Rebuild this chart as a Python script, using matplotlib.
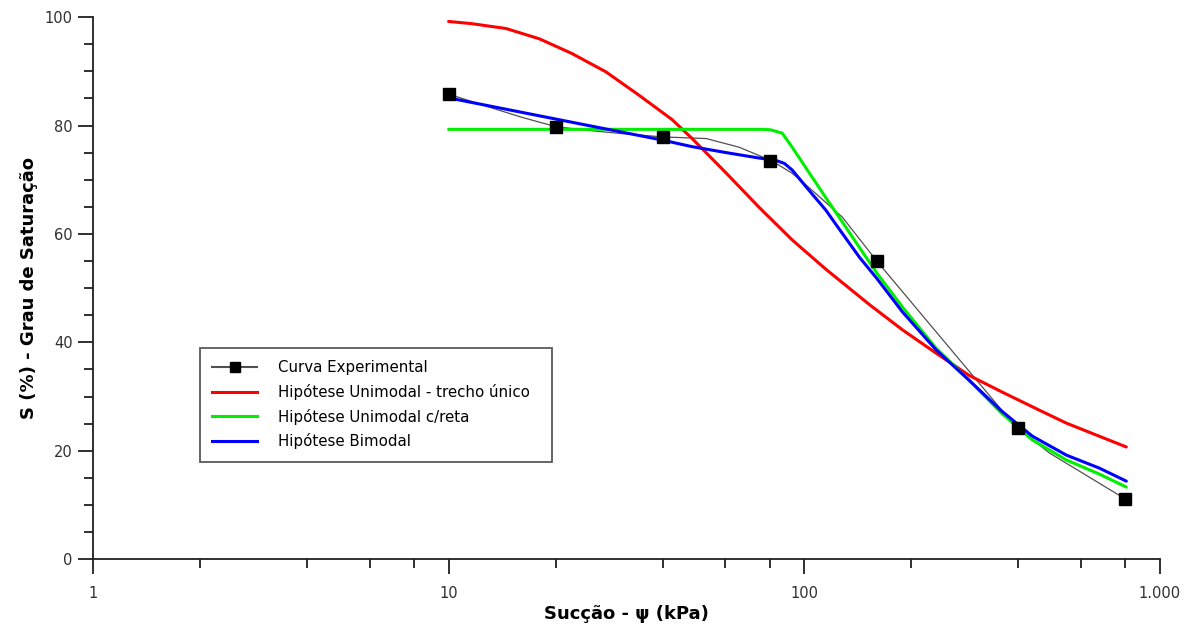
import matplotlib.pyplot as plt
from matplotlib.ticker import FixedLocator, FuncFormatter, MultipleLocator
from matplotlib.lines import Line2D

# Experimental points
psi_exp = [10, 20, 40, 80, 160, 400, 800]
s_exp = [85.8, 79.7, 77.9, 73.4, 55.0, 24.2, 11.1]

# smoothed grey line of the experimental curve
psi_grey = [10, 13, 16.1, 20, 24.7, 30.8, 40, 53, 65.6, 81, 92.5, 103, 128, 160,
            354, 400, 489, 800]
s_grey = [85.8, 83.4, 81.5, 79.8, 79.1, 78.5, 77.9, 77.6, 76.0, 73.5, 71.2, 68.6,
          63.1, 55.0, 28.0, 24.2, 19.6, 11.1]

# Hipotese Unimodal - trecho unico
psi_uni = [10, 11.6, 14.5, 18, 22.2, 27.7, 34.3, 42.5, 48.4, 60.4, 74.7, 92.5,
           115, 153, 189, 235, 291, 361, 458, 546, 805]
s_uni = [99.2, 98.8, 97.9, 96.0, 93.3, 89.9, 85.6, 81.1, 77.6, 71.2, 64.9, 58.9,
         53.5, 46.9, 42.3, 38.0, 33.9, 30.8, 27.5, 25.1, 20.7]

# Hipotese Unimodal c/reta
psi_reta = [10, 77, 80.5, 86.7, 92.5, 103, 115, 128, 143, 160, 189, 235, 291,
            358, 438, 546, 676, 805]
s_reta = [79.3, 79.3, 79.2, 78.6, 76.0, 71.4, 66.7, 62.2, 57.5, 52.8, 46.5, 38.9,
          33.0, 27.0, 22.0, 18.3, 15.7, 13.3]

# Hipotese Bimodal
psi_bi = [10, 20, 40, 48.4, 60.4, 74.7, 83, 88, 92.5, 103, 115, 128, 143, 160,
          189, 235, 291, 358, 438, 546, 676, 805]
s_bi = [85.1, 81.2, 77.3, 76.1, 75.0, 74.0, 73.6, 73.0, 71.8, 68.1, 64.4, 60.1,
        55.7, 51.8, 45.6, 38.6, 33.0, 27.4, 22.7, 19.2, 16.8, 14.4]

x_ticks = [1, 10, 100, 1000]
x_ticklabels = ['1', '10', '100', '1.000']


def main():
    plt.rcParams['font.family'] = ['DejaVu Sans']

    fig = plt.figure(figsize=(11.92, 6.34), dpi=100)
    ax = fig.add_axes([0.078, 0.118, 0.895, 0.855])

    kw = dict(solid_joinstyle='round', solid_capstyle='round')
    ax.plot(psi_grey, s_grey, color='#505050', linewidth=0.9, zorder=2, **kw)
    ax.plot(psi_exp, s_exp, linestyle='none', marker='s', markersize=8,
            color='black', zorder=5)
    ax.plot(psi_uni, s_uni, color='#ff0000', linewidth=2.2, zorder=3, **kw)
    ax.plot(psi_reta, s_reta, color='#00ee00', linewidth=2.2, zorder=3, **kw)
    ax.plot(psi_bi, s_bi, color='#0000ff', linewidth=2.2, zorder=4, **kw)

    ax.set_xscale('log')
    ax.set_xlim(1, 1000)
    ax.set_ylim(0, 100)

    ax.xaxis.set_major_locator(FixedLocator(x_ticks))
    ax.xaxis.set_major_formatter(FuncFormatter(
        lambda v, p: x_ticklabels[x_ticks.index(round(v))] if round(v) in x_ticks else ''))
    ax.xaxis.set_minor_locator(FixedLocator([2, 4, 6, 8, 20, 40, 60, 80,
                                             200, 400, 600, 800]))
    ax.xaxis.set_minor_formatter(FuncFormatter(lambda v, p: ''))
    ax.yaxis.set_major_locator(MultipleLocator(20))
    ax.yaxis.set_minor_locator(MultipleLocator(5))

    for s in ['top', 'right']:
        ax.spines[s].set_visible(False)
    for s in ['left', 'bottom']:
        ax.spines[s].set_linewidth(1.3)
        ax.spines[s].set_color('#202020')

    ax.tick_params(which='major', length=11, width=1.3, color='#202020',
                   labelsize=10.5, labelcolor='#303030')
    ax.tick_params(which='minor', length=6.5, width=1.3, color='#202020')
    ax.tick_params(axis='x', which='major', pad=8)

    ax.set_xlabel('Sucção - ψ (kPa)', fontsize=13, fontweight='bold', labelpad=3)
    ax.set_ylabel('S (%) - Grau de Saturação', fontsize=13, fontweight='bold',
                  labelpad=5)

    handles = [
        Line2D([], [], color='#505050', linewidth=1.5, marker='s', markersize=7,
               markerfacecolor='black', markeredgecolor='black'),
        Line2D([], [], color='#ff0000', linewidth=2.2),
        Line2D([], [], color='#00ee00', linewidth=2.2),
        Line2D([], [], color='#0000ff', linewidth=2.2),
    ]
    labels = ['Curva Experimental', 'Hipótese Unimodal - trecho único',
              'Hipótese Unimodal c/reta', 'Hipótese Bimodal']
    leg = ax.legend(handles, labels, loc='lower left',
                    bbox_to_anchor=(0.100, 0.179, 0.33, 0.214), mode='expand',
                    fontsize=10.8, frameon=True, fancybox=False, borderaxespad=0,
                    handlelength=3.0, handletextpad=1.35, labelspacing=0.58,
                    borderpad=0.85)
    leg.get_frame().set_edgecolor('#303030')
    leg.get_frame().set_linewidth(1.3)

    plt.savefig('out.png', dpi=100)


if __name__ == "__main__":
    main()
